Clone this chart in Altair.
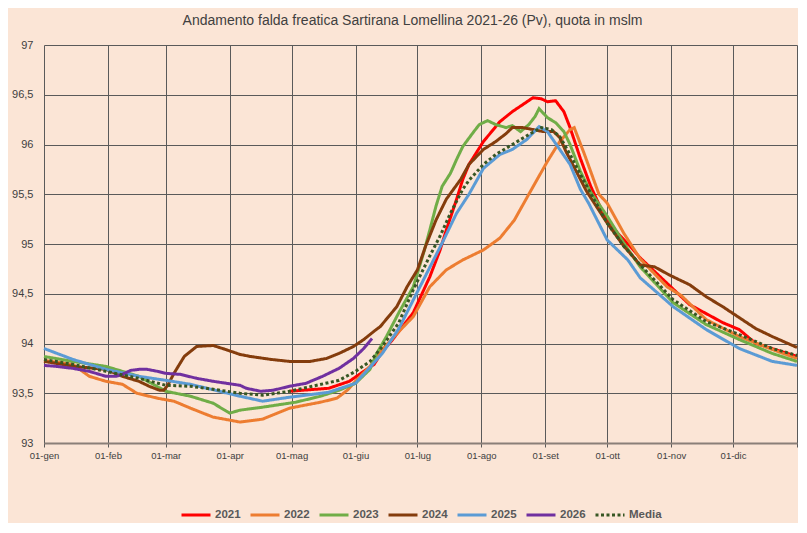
import altair as alt
import pandas as pd

# ---- data (day of year, quota in m s.l.m.) ----
d2021 = [119, 138, 148, 155, 160, 164, 169, 179, 187, 192, 195, 200, 203, 206, 213, 221, 227, 232, 237, 241, 244, 248, 252, 255, 260, 265, 271, 278, 284, 289, 313, 329, 337, 345, 365]
v2021 = [93.52, 93.55, 93.62, 93.72, 93.79, 93.92, 94.04, 94.31, 94.67, 94.94, 95.14, 95.45, 95.65, 95.80, 96.03, 96.23, 96.33, 96.40, 96.47, 96.46, 96.43, 96.44, 96.33, 96.17, 95.86, 95.58, 95.31, 95.11, 94.98, 94.86, 94.39, 94.21, 94.14, 94.00, 93.87]

d2022 = [0, 14, 22, 30, 38, 45, 55, 63, 71, 82, 90, 95, 106, 119, 134, 142, 147, 151, 158, 164, 172, 179, 187, 195, 203, 213, 221, 228, 235, 244, 250, 255, 257, 262, 269, 273, 281, 289, 302, 309, 321, 337, 353, 365]
v2022 = [93.83, 93.79, 93.67, 93.62, 93.59, 93.50, 93.45, 93.42, 93.35, 93.26, 93.23, 93.21, 93.24, 93.35, 93.41, 93.45, 93.53, 93.62, 93.77, 93.94, 94.12, 94.27, 94.57, 94.74, 94.84, 94.94, 95.06, 95.24, 95.50, 95.83, 96.03, 96.15, 96.17, 95.90, 95.50, 95.41, 95.11, 94.85, 94.57, 94.48, 94.24, 94.07, 93.94, 93.85]

d2023 = [0, 14, 30, 46, 59, 71, 82, 90, 95, 106, 122, 134, 143, 151, 158, 161, 166, 172, 179, 184, 187, 190, 193, 197, 200, 203, 208, 211, 215, 219, 224, 227, 231, 235, 238, 240, 244, 248, 252, 255, 260, 265, 273, 281, 289, 305, 321, 337, 353, 365]
v2023 = [93.87, 93.82, 93.77, 93.67, 93.52, 93.47, 93.40, 93.30, 93.33, 93.36, 93.41, 93.47, 93.53, 93.60, 93.74, 93.89, 94.07, 94.31, 94.57, 94.91, 95.14, 95.38, 95.58, 95.71, 95.85, 95.98, 96.12, 96.20, 96.24, 96.20, 96.17, 96.19, 96.13, 96.20, 96.28, 96.36, 96.27, 96.22, 96.13, 96.00, 95.73, 95.52, 95.28, 95.01, 94.77, 94.41, 94.19, 94.04, 93.90, 93.82]

d2024 = [0, 6, 14, 30, 38, 46, 51, 56, 58, 60, 63, 68, 74, 82, 88, 95, 100, 110, 119, 129, 137, 143, 150, 155, 161, 163, 171, 176, 181, 185, 190, 195, 202, 206, 213, 219, 224, 227, 232, 237, 242, 247, 250, 253, 258, 263, 273, 281, 289, 296, 303, 313, 321, 329, 337, 345, 353, 365]
v2024 = [93.82, 93.80, 93.77, 93.74, 93.67, 93.62, 93.57, 93.53, 93.53, 93.58, 93.70, 93.87, 93.97, 93.98, 93.94, 93.89, 93.87, 93.84, 93.82, 93.82, 93.85, 93.90, 93.97, 94.04, 94.14, 94.17, 94.37, 94.57, 94.74, 94.98, 95.24, 95.45, 95.65, 95.80, 95.95, 96.03, 96.11, 96.17, 96.17, 96.15, 96.13, 96.13, 96.07, 95.93, 95.73, 95.53, 95.21, 94.98, 94.79, 94.77, 94.69, 94.59, 94.47, 94.37, 94.26, 94.15, 94.07, 93.96]

d2025 = [0, 14, 30, 46, 59, 71, 95, 106, 119, 138, 151, 164, 172, 181, 193, 200, 206, 213, 221, 227, 234, 240, 244, 250, 255, 260, 264, 273, 283, 289, 305, 321, 337, 353, 365]
v2025 = [93.95, 93.84, 93.74, 93.67, 93.63, 93.59, 93.47, 93.42, 93.46, 93.51, 93.60, 93.90, 94.15, 94.52, 95.01, 95.31, 95.50, 95.76, 95.90, 95.95, 96.05, 96.18, 96.13, 95.95, 95.80, 95.55, 95.41, 95.04, 94.84, 94.66, 94.37, 94.14, 93.95, 93.82, 93.78]

d2026 = [0, 6, 14, 22, 30, 35, 38, 42, 46, 50, 55, 59, 66, 74, 82, 95, 98, 105, 111, 119, 127, 135, 143, 150, 155, 159]
v2026 = [93.78, 93.77, 93.75, 93.72, 93.67, 93.67, 93.69, 93.73, 93.74, 93.74, 93.72, 93.70, 93.69, 93.65, 93.62, 93.58, 93.55, 93.52, 93.53, 93.57, 93.60, 93.67, 93.75, 93.85, 93.95, 94.05]

dMedia = [0, 14, 30, 46, 59, 71, 82, 95, 106, 119, 130, 143, 151, 158, 164, 169, 172, 179, 187, 192, 197, 203, 206, 213, 219, 227, 235, 241, 246, 250, 255, 260, 265, 273, 281, 289, 305, 321, 337, 353, 365]
vMedia = [93.84, 93.79, 93.72, 93.65, 93.58, 93.57, 93.54, 93.50, 93.48, 93.52, 93.57, 93.63, 93.72, 93.82, 93.97, 94.12, 94.21, 94.54, 94.88, 95.08, 95.31, 95.55, 95.64, 95.80, 95.90, 96.00, 96.10, 96.17, 96.15, 96.08, 95.90, 95.70, 95.51, 95.21, 94.98, 94.79, 94.44, 94.22, 94.09, 93.95, 93.88]

series_names = ["2021", "2022", "2023", "2024", "2025", "2026", "Media"]
series_colors = ["#FF0000", "#ED7D31", "#70AD47", "#843C0C", "#5B9BD5", "#7030A0", "#375623"]
month_days = [0, 31, 59, 90, 120, 151, 181, 212, 243, 273, 304, 334, 365]
month_labels = ["01-gen", "01-feb", "01-mar", "01-apr", "01-mag", "01-giu",
                "01-lug", "01-ago", "01-set", "01-ott", "01-nov", "01-dic", ""]
y_ticks = [93, 93.5, 94, 94.5, 95, 95.5, 96, 96.5, 97]

rows = []
for name, dd, vv in zip(series_names,
                        [d2021, d2022, d2023, d2024, d2025, d2026, dMedia],
                        [v2021, v2022, v2023, v2024, v2025, v2026, vMedia]):
    for d, v in zip(dd, vv):
        rows.append({"serie": name, "giorno": d, "quota": v})
df = pd.DataFrame(rows)

label_expr = "[" + ",".join("'%s'" % s for s in month_labels) + "][indexof([" + \
    ",".join(str(d) for d in month_days) + "], datum.value)]"

dash_range = [[1, 0]] * 6 + [[3, 2.5]]

chart = alt.Chart(df).mark_line(strokeWidth=3).encode(
    x=alt.X("giorno:Q", scale=alt.Scale(domain=[0, 365], nice=False, zero=False),
            axis=alt.Axis(title=None, values=month_days, labelExpr=label_expr,
                          grid=True, gridColor="#5a5a5a", gridWidth=1,
                          domainColor="#8a7f78", domainWidth=2,
                          tickColor="#5a5a5a", tickSize=4,
                          labelFont="Liberation Sans", labelFontSize=9.5,
                          labelColor="#404040", labelPadding=3, labelFlush=False)),
    y=alt.Y("quota:Q", scale=alt.Scale(domain=[93, 97], nice=False, zero=False),
            axis=alt.Axis(title=None, values=y_ticks,
                          labelExpr="replace(format(datum.value, '.1~f'), '.', ',')",
                          grid=True, gridColor="#5a5a5a", gridWidth=1,
                          domain=False, ticks=False,
                          labelFont="Liberation Sans", labelFontSize=11,
                          labelColor="#404040", labelPadding=11)),
    color=alt.Color("serie:N", scale=alt.Scale(domain=series_names, range=series_colors),
                    legend=alt.Legend(title=None)),
    strokeDash=alt.StrokeDash("serie:N", scale=alt.Scale(domain=series_names, range=dash_range),
                              legend=alt.Legend(title=None)),
    order=alt.Order("giorno:Q"),
).properties(
    width=753, height=398,
    padding={"left": 36, "top": 37, "right": 1, "bottom": 80},
    autosize=alt.AutoSizeParams(type="none"),
    background="#FBE5D6",
    title=alt.TitleParams(
        "Andamento  falda freatica Sartirana Lomellina 2021-26 (Pv), quota in mslm",
        font="Liberation Sans", fontSize=14, fontWeight="normal", color="#404040",
        anchor="middle", frame="group", offset=11, dx=-8),
).configure_view(
    stroke=None, fill="#FBE5D6"
).configure_legend(
    orient="none", legendX=136, legendY=454, direction="horizontal",
    symbolType="stroke", symbolSize=841, symbolStrokeWidth=3,
    labelFont="Liberation Sans", labelFontSize=11.5, labelFontWeight="bold",
    labelColor="#595959", labelOffset=3, columnPadding=3, padding=0,
)

chart.save("out.html", embed_options={"renderer": "svg", "actions": False})
